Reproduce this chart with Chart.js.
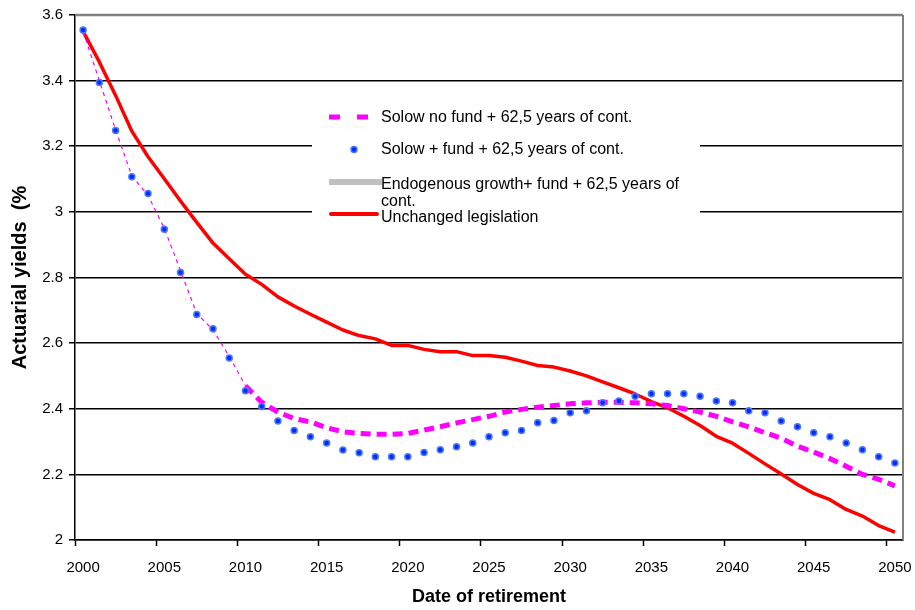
<!DOCTYPE html>
<html>
<head>
<meta charset="utf-8">
<title>Actuarial yields by date of retirement</title>
<script src="https://cdn.jsdelivr.net/npm/chart.js@4.4.1/dist/chart.umd.min.js"></script>
<style>
  html, body { margin: 0; padding: 0; background: #ffffff; }
  #chart { display: block; }
</style>
</head>
<body>
<canvas id="chart" width="915" height="610"></canvas>
<script>
// Retirement years on the category axis (one point per year)
const years = [];
for (let y = 2000; y <= 2050; y++) years.push(String(y));

// Years that carry a tick label
const xTickLabels = ['2000', '2005', '2010', '2015', '2020', '2025', '2030', '2035', '2040', '2045', '2050'];

// Actuarial yields (%) per scenario
const solowNoFund = [
  3.55, 3.40, 3.25, 3.11, 3.05, 2.95, 2.82, 2.69, 2.64, 2.56,
  2.47, 2.42, 2.39, 2.37, 2.36, 2.342, 2.33, 2.325, 2.322, 2.322,
  2.325, 2.335, 2.345, 2.357, 2.367, 2.377, 2.39, 2.398, 2.405, 2.41,
  2.415, 2.418, 2.42, 2.42, 2.418, 2.415, 2.41, 2.40, 2.39, 2.377,
  2.36, 2.345, 2.327, 2.31, 2.286, 2.268, 2.248, 2.225, 2.20, 2.185,
  2.165
];

const solowFund = [
  3.554, 3.394, 3.248, 3.107, 3.056, 2.947, 2.815, 2.687, 2.644, 2.555,
  2.455, 2.407, 2.363, 2.334, 2.315, 2.296, 2.274, 2.266, 2.254, 2.254,
  2.254, 2.267, 2.275, 2.284, 2.296, 2.315, 2.327, 2.334, 2.357, 2.364,
  2.388, 2.394, 2.418, 2.424, 2.438, 2.446, 2.446, 2.446, 2.438, 2.424,
  2.418, 2.394, 2.388, 2.363, 2.345, 2.327, 2.315, 2.296, 2.275, 2.254,
  2.235
];

// Endogenous growth scenario: listed in the key only
const endogenousGrowth = [];

const unchangedLegislation = [
  3.55, 3.457, 3.355, 3.246, 3.168, 3.101, 3.033, 2.968, 2.905, 2.857,
  2.81, 2.779, 2.741, 2.713, 2.688, 2.664, 2.64, 2.623, 2.613, 2.593,
  2.593, 2.581, 2.574, 2.574, 2.562, 2.562, 2.557, 2.545, 2.532, 2.527,
  2.515, 2.50, 2.482, 2.464, 2.445, 2.422, 2.403, 2.377, 2.349, 2.316,
  2.295, 2.264, 2.232, 2.201, 2.169, 2.142, 2.123, 2.093, 2.073, 2.044,
  2.024
];

const FONT = '"Liberation Sans", Arial, Helvetica, sans-serif';

// Grey frame on the top and right of the plot area
const plotFrame = {
  id: 'plotFrame',
  beforeDatasetsDraw(chart) {
    const { ctx, chartArea: a } = chart;
    ctx.save();
    ctx.strokeStyle = '#808080';
    ctx.lineWidth = 2.5;
    ctx.beginPath();
    ctx.moveTo(a.left, a.top);
    ctx.lineTo(a.right, a.top);
    ctx.stroke();
    ctx.lineWidth = 2;
    ctx.beginPath();
    ctx.moveTo(a.right, a.top);
    ctx.lineTo(a.right, a.bottom);
    ctx.stroke();
    ctx.restore();
  }
};

// Key drawn inside the plot area with wrapped labels
function wrapText(ctx, text, maxWidth) {
  const words = text.split(' ');
  const lines = [];
  let line = '';
  for (const w of words) {
    const test = line ? line + ' ' + w : w;
    if (ctx.measureText(test).width > maxWidth && line) {
      lines.push(line);
      line = w;
    } else {
      line = test;
    }
  }
  if (line) lines.push(line);
  return lines;
}

const insideKey = {
  id: 'insideKey',
  afterDraw(chart) {
    const { ctx } = chart;
    const ds = chart.data.datasets;
    ctx.save();
    ctx.fillStyle = '#ffffff';
    ctx.fillRect(312, 97, 388, 130);

    ctx.font = '16px ' + FONT;
    ctx.textBaseline = 'middle';
    ctx.textAlign = 'left';
    const textX = 381;
    const rows = [118, 150, 185, 218];

    // dashed magenta symbol
    ctx.fillStyle = ds[0].borderColor;
    ctx.fillRect(329, 114.5, 11, 5);
    ctx.fillRect(357, 114.5, 11, 5);

    // blue marker
    ctx.beginPath();
    ctx.arc(354, 149.5, 3, 0, Math.PI * 2);
    ctx.fillStyle = ds[1].pointBackgroundColor;
    ctx.fill();
    ctx.lineWidth = 1.5;
    ctx.strokeStyle = ds[1].pointBorderColor;
    ctx.stroke();

    // grey bar
    ctx.fillStyle = ds[2].borderColor;
    ctx.fillRect(329, 179, 53, 6);

    // red line
    ctx.strokeStyle = ds[3].borderColor;
    ctx.lineWidth = 4;
    ctx.lineCap = 'round';
    ctx.beginPath();
    ctx.moveTo(331, 214);
    ctx.lineTo(377, 214);
    ctx.stroke();

    ctx.fillStyle = '#000000';
    ds.forEach((d, i) => {
      const lines = wrapText(ctx, d.label, 310);
      lines.forEach((ln, j) => ctx.fillText(ln, textX, rows[i] + j * 17));
    });
    ctx.restore();
  }
};

new Chart(document.getElementById('chart'), {
  type: 'line',
  data: {
    labels: years,
    datasets: [
      {
        label: 'Solow no fund + 62,5 years of cont.',
        data: solowNoFund,
        borderColor: '#ff00ff',
        backgroundColor: '#ff00ff',
        borderWidth: 5,
        borderDash: [10, 6],
        borderCapStyle: 'butt',
        pointRadius: 0,
        tension: 0,
        order: 2,
        segment: {
          borderWidth: c => (c.p0DataIndex < 10 ? 1.2 : 5),
          borderDash: c => (c.p0DataIndex < 10 ? [4, 4] : [10, 6])
        }
      },
      {
        label: 'Solow + fund + 62,5 years of cont.',
        data: solowFund,
        showLine: false,
        borderColor: '#0a2cf0',
        pointBackgroundColor: '#0a2cf0',
        pointBorderColor: '#4a7cff',
        pointBorderWidth: 1.5,
        pointRadius: 3,
        order: 1
      },
      {
        label: 'Endogenous growth+ fund + 62,5 years of cont.',
        data: endogenousGrowth,
        borderColor: '#c0c0c0',
        backgroundColor: '#c0c0c0',
        borderWidth: 5,
        pointRadius: 0,
        order: 4
      },
      {
        label: 'Unchanged legislation',
        data: unchangedLegislation,
        borderColor: '#ff0000',
        backgroundColor: '#ff0000',
        borderWidth: 3.5,
        borderJoinStyle: 'round',
        pointRadius: 0,
        tension: 0,
        order: 3
      }
    ]
  },
  options: {
    responsive: false,
    animation: false,
    devicePixelRatio: 1,
    layout: { padding: { left: 0, top: 14, right: 12, bottom: 0 } },
    plugins: {
      legend: { display: false },
      tooltip: { enabled: false },
      title: { display: false }
    },
    scales: {
      x: {
        type: 'category',
        offset: true,
        grid: {
          offset: true,
          drawOnChartArea: false,
          drawTicks: true,
          tickLength: 6,
          tickWidth: 1.5,
          tickColor: c => (c.index % 5 === 0 && c.index <= 50 ? '#000000' : 'rgba(0,0,0,0)')
        },
        border: { display: true, color: '#000000', width: 1.5 },
        ticks: {
          autoSkip: false,
          maxRotation: 0,
          minRotation: 0,
          padding: 1,
          color: '#000000',
          font: { family: FONT, size: 15, lineHeight: 2.8 },
          callback: (v, i) => (xTickLabels.includes(years[i]) ? years[i] : '')
        },
        title: {
          display: true,
          text: 'Date of retirement',
          color: '#000000',
          font: { family: FONT, size: 18, weight: 'bold' },
          padding: { top: 0, bottom: 2 }
        },
        afterFit: s => { s.height = 70; }
      },
      y: {
        min: 2,
        max: 3.6,
        grid: {
          color: c => (c.tick && c.tick.value > 3.59 ? 'rgba(0,0,0,0)' : '#000000'),
          lineWidth: 1.5,
          tickLength: 6,
          tickColor: '#000000',
          tickWidth: 1.5
        },
        border: { display: true, color: '#000000', width: 1.5 },
        ticks: {
          stepSize: 0.2,
          padding: 6,
          color: '#000000',
          font: { family: FONT, size: 15 },
          callback: v => String(Number(Number(v).toFixed(1)))
        },
        title: {
          display: true,
          text: 'Actuarial yields  (%',
          color: '#000000',
          font: { family: FONT, size: 20, weight: 'bold' },
          padding: { top: 8, bottom: 0 }
        },
        afterFit: s => { s.width = 75; }
      }
    }
  },
  plugins: [plotFrame, insideKey]
});
</script>
</body>
</html>
